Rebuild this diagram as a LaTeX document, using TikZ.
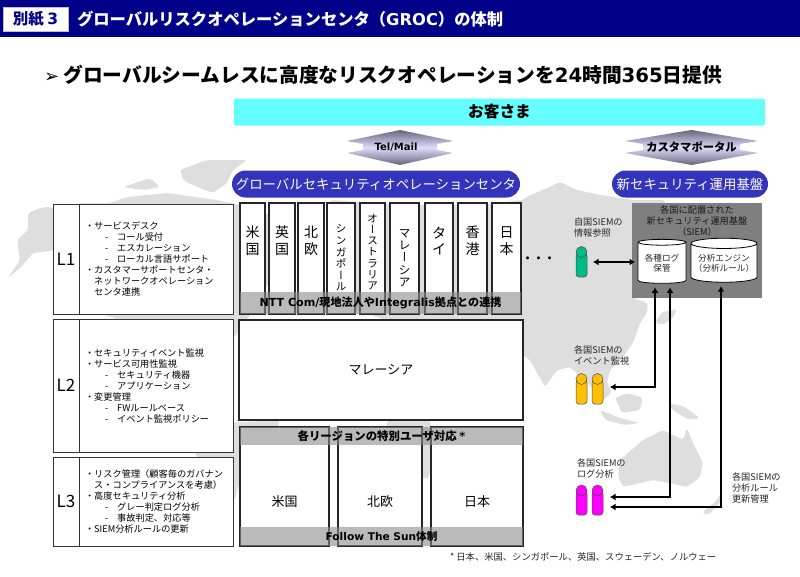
\documentclass[tikz,border=0pt]{standalone}
\usepackage{fontspec}
\setmainfont{Noto Sans CJK JP}
\newfontfamily\latinfont{DejaVu Sans}
\newfontfamily\vertfont[RawFeature=+vert]{Noto Sans CJK JP}
\usetikzlibrary{arrows.meta,positioning,shapes.geometric}
\definecolor{navybar}{HTML}{000088}
\definecolor{skybar}{HTML}{66FFFF}
\definecolor{pillblue}{HTML}{3333BB}
\definecolor{landgray}{HTML}{DEDEDE}
\definecolor{siemgray}{HTML}{7F7F7F}
\definecolor{agreen}{HTML}{00BB88}
\definecolor{aorange}{HTML}{FFC000}
\definecolor{apink}{HTML}{FF00FF}
\definecolor{headtone}{HTML}{66667A}
\definecolor{waisttone}{HTML}{DCDCFA}
\newcommand{\fsz}[2]{\fontsize{#1pt}{#2pt}\selectfont}
\newcommand{\lat}[1]{{\latinfont #1}}
\newcommand{\choon}{{\vertfont ー}}
\newcommand{\itm}[1]{・#1}
\newcommand{\itmc}[1]{\hspace*{9.2pt}#1}
\newcommand{\itms}[1]{\hspace*{20pt}-\hspace{9pt}#1}
\begin{document}
\begin{tikzpicture}[x=1pt,y=-1pt,every node/.style={inner sep=0pt,outer sep=0pt},
 land/.style={fill=landgray,draw=none,rounded corners=3pt},
 pill/.style={fill=pillblue,text=white,rounded corners=13.5pt,minimum height=27pt,font=\fsz{13.4}{16}},
 lvlname/.style={draw=black!80,line width=1pt,fill=white,minimum width=26pt,font=\fsz{17}{20}},
 lvlbody/.style={draw=black!80,line width=1pt,fill=white,minimum width=154pt,text width=142pt,align=left,font=\fsz{9.2}{11}},
 cbox/.style={draw=black!85,line width=1.6pt,fill=white,minimum height=111pt},
 ctxt/.style={align=center,font=\fsz{14}{16.7}},
 ctxts/.style={align=center,font=\fsz{11.5}{12.3}},
 bigbox/.style={draw=black!85,line width=1.6pt,fill=white},
 bandg/.style={fill=black!45,fill opacity=.6,text opacity=1,font=\bfseries\fsz{10.6}{13}},
 twoway/.style={top color=headtone,bottom color=headtone,middle color=waisttone},
 dbcyl/.style={cylinder,shape border rotate=90,shape aspect=.17,draw=black,fill=white,line width=.8pt,align=center,font=\fsz{8.6}{10},text=black!85},
 note/.style={align=left,font=\fsz{9.2}{11},text=black!85},
 phead/.style={circle,draw=black!70,line width=.5pt,fill=#1,minimum size=11pt},
 pbody/.style={draw=black!70,line width=.5pt,fill=#1,rounded corners=3pt,minimum width=11pt,minimum height=24pt},
 lnk/.style={{Latex[length=5.5pt,width=7pt]}-{Latex[length=5.5pt,width=7pt]},line width=1.6pt}]
\useasboundingbox (0,0) rectangle (800,576);
% map
\fill[land] (8,278)--(20,260)--(17,240)--(28,230)--(28,213)--(43,207)--(57,208)--(80,203)--(110,203)--(127,197)--(167,193)--(217,200)--(240,205)--(270,215)--(280,260)--(260,300)--(240,330)--(215,360)--(205,400)--(180,380)--(120,320)--(60,300)--(57,250)--(33,253)--(20,268)--cycle;
\fill[land] (123,187)--(150,178)--(160,187)--(143,190)--cycle;
\fill[land] (180,170)--(207,160)--(247,160)--(233,170)--(227,183)--(213,193)--(197,187)--(183,180)--cycle;
\fill[land] (195,425)--(280,420)--(270,450)--(240,480)--(235,500)--(225,500)--(215,470)--(195,455)--cycle;
\fill[land] (330,200)--(400,205)--(480,205)--(523,200)--(530,195)--(543,190)--(560,182)--(577,190)--(600,195)--(633,200)--(665,200)--(665,250)--(633,298)--(648,303)--(647,313)--(640,323)--(633,343)--(623,357)--(610,370)--(607,383)--(612,392)--(600,403)--(590,385)--(570,367)--(557,370)--(545,387)--(530,360)--(500,340)--(460,330)--(400,325)--(330,300)--cycle;
\fill[land] (387,420)--(430,420)--(435,450)--(428,480)--(410,470)--(387,440)--cycle;
\fill[land] (655,322)--(662,312)--(677,309)--(673,318)--(662,325)--cycle;
\fill[land] (615,398)--(628,393)--(643,398)--(640,410)--(622,413)--cycle;
\fill[land] (667,403)--(683,406)--(700,418)--(690,420)--(675,412)--cycle;
\fill[land] (600,410)--(620,418)--(640,423)--(625,425)--(605,420)--cycle;
\fill[land] (620,460)--(643,440)--(663,430)--(683,440)--(687,428)--(693,443)--(703,463)--(700,477)--(687,487)--(670,483)--(653,480)--(623,487)--(618,477)--cycle;
\fill[land] (702,513)--(717,500)--(722,492)--(720,503)--(708,515)--cycle;
% header
\fill[navybar] (0,0) rectangle (800,37);
\node[fill=white,draw=black!25,minimum width=65pt,minimum height=24pt,text=navybar,font=\bfseries\fsz{15.5}{18}] (tag) at (35.5,19) {別紙 \lat{3}};
\node[right=9pt of tag,text=white,font=\bfseries\fsz{16.3}{19}] (title) {グローバルリスクオペレーションセンタ（\lat{GROC}）の体制};
\node[anchor=west,font=\bfseries\fsz{19.7}{24}] (lead) at (44,75) {{\latinfont\fsz{18}{24}➢}\hspace{4.5pt}グローバルシームレスに高度なリスクオペレーションを\lat{24}時間\lat{365}日提供};
% customer side
\node[fill=skybar,rounded corners=1.5pt,minimum width=531pt,minimum height=27pt,font=\bfseries\fsz{15.7}{18}] (cust) at (499.5,112) {お客さま};
\path[twoway] (400,130)--(453,141)--(437,144)--(437,150)--(453,153)--(400,165)--(347,153)--(363,150)--(363,144)--(347,141)--cycle;
\path[twoway] (691.5,130)--(758,141)--(740,144)--(740,150)--(758,153)--(691.5,165)--(625,153)--(643,150)--(643,144)--(625,141)--cycle;
\node[font=\bfseries\fsz{10}{12}\latinfont] (telmail) at (396,147) {Tel/Mail};
\node[font=\bfseries\fsz{11.3}{13}] (portal) at (691.5,147) {カスタマポータル};
\node[pill,minimum width=288pt] (gsoc) at (376,184) {グローバルセキュリティオペレーションセンタ};
\node[pill,minimum width=156pt] (nsop) at (690,184) {新セキュリティ運用基盤};
% levels
\node[lvlname,minimum height=110pt] (l1) at (66,259) {L1};
\node[lvlbody,minimum height=110pt,right=0pt of l1] (l1b) {\itm{サービスデスク}\\\itms{コール受付}\\\itms{エスカレーション}\\\itms{ローカル言語サポート}\\\itm{カスタマーサポートセンタ・}\\\itmc{ネットワークオペレーション}\\\itmc{センタ連携}};
\node[lvlname,minimum height=133pt] (l2) at (66,385.5) {L2};
\node[lvlbody,minimum height=133pt,right=0pt of l2] (l2b) {\itm{セキュリティイベント監視}\\\itm{サービス可用性監視}\\\itms{セキュリティ機器}\\\itms{アプリケーション}\\\itm{変更管理}\\\itms{FWルールベース}\\\itms{イベント監視ポリシー}};
\node[lvlname,minimum height=89pt] (l3) at (66,501.5) {L3};
\node[lvlbody,minimum height=89pt,right=0pt of l3] (l3b) {\itm{リスク管理（顧客毎のガバナン}\\\itmc{ス・コンプライアンスを考慮）}\\\itm{高度セキュリティ分析}\\\itms{グレー判定ログ分析}\\\itms{事故判定、対応等}\\\itm{SIEM分析ルールの更新}};
% country columns
\node[cbox,minimum width=25pt] (c1) at (252.5,258.5) {};
\node[cbox,minimum width=26pt,right=4pt of c1] (c2) {};
\node[cbox,minimum width=26pt,right=3pt of c2] (c3) {};
\node[cbox,minimum width=28pt,right=3pt of c3] (c4) {};
\node[cbox,minimum width=25pt,right=5pt of c4] (c5) {};
\node[cbox,minimum width=29pt,right=5pt of c5] (c6) {};
\node[cbox,minimum width=28pt,right=6pt of c6] (c7) {};
\node[cbox,minimum width=29pt,right=5pt of c7] (c8) {};
\node[cbox,minimum width=29pt,right=5pt of c8] (c9) {};
\node[ctxt] (c1t) at ([yshift=-38pt]c1.north) {米\\国};
\node[ctxt] (c2t) at ([yshift=-38pt]c2.north) {英\\国};
\node[ctxt] (c3t) at ([yshift=-38pt]c3.north) {北\\欧};
\node[ctxts,font=\fsz{10.5}{11.6}] (c4t) at ([yshift=-55pt]c4.north) {シ\\ン\\ガ\\ポ\\\choon\\ル};
\node[ctxts,font=\fsz{10.5}{11.3}] (c5t) at ([yshift=-49pt]c5.north) {オ\\\choon\\ス\\ト\\ラ\\リ\\ア};
\node[ctxts] (c6t) at ([yshift=-55pt]c6.north) {マ\\レ\\\choon\\シ\\ア};
\node[ctxt] (c7t) at ([yshift=-38pt]c7.north) {タ\\イ};
\node[ctxt] (c8t) at ([yshift=-38pt]c8.north) {香\\港};
\node[ctxt] (c9t) at ([yshift=-38pt]c9.north) {日\\本};
\node[bandg,font=\bfseries\fsz{11.1}{13},minimum width=281pt,minimum height=22pt] (nttband) at (380.5,303) {\lat{NTT Com/}現地法人や\lat{Integralis}拠点との連携};
\node[bigbox,minimum width=284pt,minimum height=100pt,font=\fsz{13}{15}] (l2c) at (381,370) {マレーシア};
% lower block
\node[bigbox,minimum width=89pt,minimum height=119pt] (rus) at (284.5,486.5) {};
\node[bigbox,minimum width=84pt,minimum height=119pt,right=9pt of rus] (reu) {};
\node[bigbox,minimum width=92pt,minimum height=119pt,right=9pt of reu] (rjp) {};
\node[font=\fsz{13}{15}] (rust) at ([yshift=-75pt]rus.north) {米国};
\node[font=\fsz{13}{15}] (reut) at ([yshift=-75pt]reu.north) {北欧};
\node[font=\fsz{13}{15}] (rjpt) at ([yshift=-75pt]rjp.north) {日本};
\node[bandg,font=\bfseries\fsz{11.4}{13},minimum width=283pt,minimum height=18pt] (spband) at (381.5,436) {各リージョンの特別ユーザ対応 \lat{*}};
\node[bandg,minimum width=283pt,minimum height=19pt] (fsband) at (381.5,536.5) {\lat{Follow The Sun}体制};
\node[font=\fsz{9.3}{11},text=black!85,anchor=west] (fnote) at (450,557) {* 日本、米国、シンガポール、英国、スウェーデン、ノルウェー};
\node[font=\bfseries\fsz{11}{13}] (dots) at (538.5,260) {・・・};
% SIEM side
\node[fill=siemgray,minimum width=130pt,minimum height=95pt] (siem) at (697,250.5) {};
\node[align=center,font=\fsz{9.2}{11},text=black!90] (siemt) at ([yshift=-18pt]siem.north) {各国に配置された\\新セキュリティ運用基盤\\（SIEM）};
\node[dbcyl,minimum width=48pt,minimum height=44pt] (logdb) at (662,263) {各種ログ\\保管};
\node[dbcyl,minimum width=66pt,minimum height=44pt] (engdb) at (724,263) {分析エンジン\\（分析ルール）};
\node[note,anchor=west] (n1) at (574,228) {自国SIEMの\\情報参照};
\node[note,anchor=west] (n2) at (574,355) {各国SIEMの\\イベント監視};
\node[note,anchor=west] (n3) at (577,468.5) {各国SIEMの\\ログ分析};
\node[note,anchor=west] (n4) at (732,488) {各国SIEMの\\分析ルール\\更新管理};
\node[pbody=agreen] (p1) at (581.5,265) {};
\node[phead=agreen] (p1h) at (581.5,252) {};
\node[pbody=aorange] (p2) at (581.5,392) {};
\node[phead=aorange] (p2h) at (581.5,379) {};
\node[pbody=aorange,right=5pt of p2] (p3) {};
\node[phead=aorange] (p3h) at (p3 |- p2h) {};
\node[pbody=apink] (p4) at (581.5,503) {};
\node[phead=apink] (p4h) at (581.5,490.5) {};
\node[pbody=apink,right=5pt of p4] (p5) {};
\node[phead=apink] (p5h) at (p5 |- p4h) {};
\coordinate (p1o) at ([yshift=3pt]p1.east);
\coordinate (p3o) at ([yshift=5pt]p3.east);
\coordinate (p5a) at ([yshift=6pt]p5.east);
\coordinate (p5b) at ([yshift=-4pt]p5.east);
\coordinate (login) at ([xshift=-7pt]logdb.south);
\coordinate (logrx) at ([xshift=8pt]logdb.south);
\coordinate (engin) at ([xshift=-3pt]engdb.south);
\draw[lnk,shorten <=6pt,shorten >=3pt] (p1o) -- (p1o -| logdb.west);
\draw[lnk,shorten <=7pt,shorten >=4pt] (p3o) -| (login);
\draw[lnk,shorten <=7pt,shorten >=4pt] (p5a) -| (logrx);
\draw[lnk,shorten <=7pt,shorten >=4pt] (p5b) -| (engin);
\end{tikzpicture}
\end{document}
